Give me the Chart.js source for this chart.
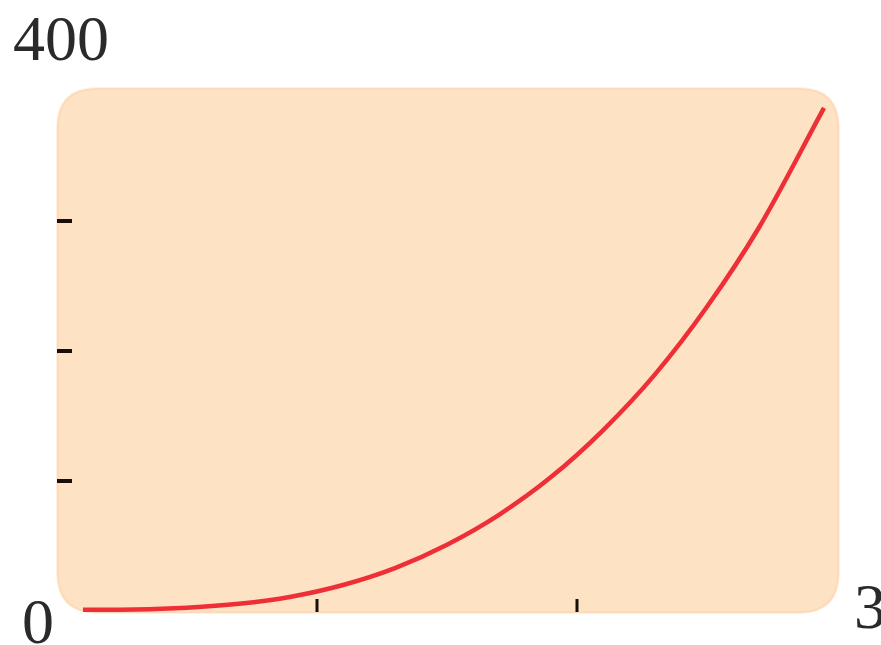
<!DOCTYPE html>
<html>
<head>
<meta charset="utf-8">
<script src="https://cdn.jsdelivr.net/npm/chart.js@4.4.0/dist/chart.umd.min.js"></script>
<style>
html,body{margin:0;padding:0;background:#fff;}
#wrap{width:881px;height:645px;}
</style>
</head>
<body>
<div id="wrap"><canvas id="c" width="881" height="645"></canvas></div>
<script>
// Data
const xValues = [0.1, 0.3, 0.5, 0.7, 0.9, 1.1, 1.3, 1.5, 1.7, 1.9, 2.1, 2.3, 2.5, 2.7, 2.95];
const yValues = [1, 1.2, 2.5, 5.5, 11, 20, 33, 51, 74, 103, 139, 182, 234, 295, 387];
const xRange = [0, 3];
const yRange = [0, 400];
const yTickValues = [100, 200, 300];
const xTickValues = [1, 2];
const labelTop = "400";
const labelOrigin = "0";
const labelRight = "3";

const points = xValues.map((x, i) => ({x: x, y: yValues[i]}));

function roundRect(ctx, x, y, w, h, r) {
  ctx.beginPath();
  ctx.moveTo(x + r, y);
  ctx.lineTo(x + w - r, y);
  ctx.quadraticCurveTo(x + w, y, x + w, y + r);
  ctx.lineTo(x + w, y + h - r);
  ctx.quadraticCurveTo(x + w, y + h, x + w - r, y + h);
  ctx.lineTo(x + r, y + h);
  ctx.quadraticCurveTo(x, y + h, x, y + h - r);
  ctx.lineTo(x, y + r);
  ctx.quadraticCurveTo(x, y, x + r, y);
  ctx.closePath();
}

const decor = {
  id: 'decor',
  beforeDatasetsDraw(chart) {
    const ctx = chart.ctx;
    const a = chart.chartArea;
    ctx.save();
    const bx = a.left, by = a.top - 3, bw = a.right - a.left + 2, bh = a.bottom - a.top + 5;
    roundRect(ctx, bx - 1, by - 1, bw + 2, bh + 2, 42);
    ctx.fillStyle = '#fef0e2';
    ctx.fill();
    roundRect(ctx, bx, by, bw, bh, 40);
    ctx.fillStyle = '#fddbb8';
    ctx.fill();
    roundRect(ctx, bx + 2, by + 2, bw - 4, bh - 4, 38);
    ctx.fillStyle = '#fee2c4';
    ctx.fill();
    ctx.restore();
  },
  afterDatasetsDraw(chart) {
    const ctx = chart.ctx;
    const xs = chart.scales.x, ys = chart.scales.y;
    const a = chart.chartArea;
    ctx.save();
    ctx.fillStyle = '#1a0f08';
    yTickValues.forEach(v => {
      const py = ys.getPixelForValue(v);
      ctx.fillRect(a.left, Math.round(py) - 2, 15, 4);
    });
    xTickValues.forEach(v => {
      const px = xs.getPixelForValue(v);
      ctx.fillRect(Math.round(px) - 1.5, a.bottom - 12, 3, 13);
    });
    ctx.fillStyle = '#2a2a2a';
    ctx.font = '64px "Liberation Serif", "DejaVu Serif", serif';
    ctx.textBaseline = 'alphabetic';
    ctx.textAlign = 'left';
    ctx.fillText(labelTop, 13, 60);
    ctx.fillText(labelOrigin, 22, 643);
    ctx.fillText(labelRight, 854, 628);
    ctx.restore();
  }
};

new Chart(document.getElementById('c'), {
  type: 'line',
  data: {
    datasets: [{
      data: points,
      borderColor: '#ee2f36',
      borderWidth: 4.5,
      pointRadius: 0,
      fill: false,
      cubicInterpolationMode: 'monotone',
      clip: false
    }]
  },
  options: {
    responsive: false,
    animation: false,
    events: [],
    layout: {padding: {left: 57, right: 44, top: 91, bottom: 34}},
    plugins: {legend: {display: false}, tooltip: {enabled: false}},
    scales: {
      x: {type: 'linear', min: xRange[0], max: xRange[1], display: false},
      y: {type: 'linear', min: yRange[0], max: yRange[1], display: false}
    }
  },
  plugins: [decor]
});
</script>
</body>
</html>
